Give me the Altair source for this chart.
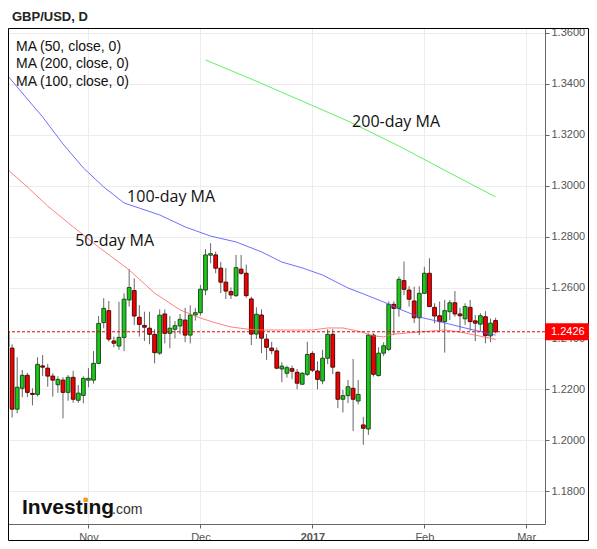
import altair as alt
import pandas as pd

# ---------------- data ----------------
opens = [1.2429, 1.2362, 1.2122, 1.2204, 1.2255, 1.2184, 1.2180, 1.2292, 1.2283, 1.2252,
         1.2218, 1.2236, 1.2188, 1.2247, 1.2157, 1.2176, 1.2236, 1.2236, 1.2302, 1.2462,
         1.2509, 1.2390, 1.2370, 1.2404, 1.2551, 1.2588, 1.2483, 1.2451, 1.2440, 1.2416,
         1.2342, 1.2496, 1.2420, 1.2436, 1.2449, 1.2472, 1.2413, 1.2492, 1.2501, 1.2590,
         1.2727, 1.2728, 1.2676, 1.2621, 1.2584, 1.2568, 1.2672, 1.2656, 1.2555, 1.2417,
         1.2492, 1.2397, 1.2362, 1.2351, 1.2280, 1.2263, 1.2281, 1.2267, 1.2220, 1.2259,
         1.2341, 1.2272, 1.2233, 1.2322, 1.2416, 1.2267, 1.2161, 1.2175, 1.2204, 1.2154,
         1.2060, 1.2044, 1.2413, 1.2254, 1.2342, 1.2357, 1.2534, 1.2518, 1.2627, 1.2590,
         1.2547, 1.2481, 1.2577, 1.2656, 1.2522, 1.2489, 1.2466, 1.2505, 1.2540, 1.2496,
         1.2477, 1.2522, 1.2469, 1.2456, 1.2485, 1.2410, 1.2470]
highs = [1.2453, 1.2377, 1.2326, 1.2276, 1.2265, 1.2204, 1.2326, 1.2335, 1.2300, 1.2263,
         1.2251, 1.2247, 1.2256, 1.2273, 1.2217, 1.2251, 1.2283, 1.2350, 1.2488, 1.2558,
         1.2547, 1.2407, 1.2544, 1.2577, 1.2672, 1.2636, 1.2531, 1.2505, 1.2505, 1.2436,
         1.2514, 1.2514, 1.2488, 1.2468, 1.2496, 1.2520, 1.2530, 1.2520, 1.2610, 1.2750,
         1.2774, 1.2741, 1.2701, 1.2676, 1.2600, 1.2728, 1.2728, 1.2690, 1.2564, 1.2522,
         1.2514, 1.2417, 1.2387, 1.2364, 1.2306, 1.2293, 1.2293, 1.2280, 1.2268, 1.2387,
         1.2350, 1.2310, 1.2355, 1.2436, 1.2436, 1.2270, 1.2197, 1.2237, 1.2319, 1.2237,
         1.2092, 1.2420, 1.2420, 1.2365, 1.2385, 1.2545, 1.2546, 1.2643, 1.2702, 1.2605,
         1.2603, 1.2605, 1.2681, 1.2715, 1.2538, 1.2545, 1.2551, 1.2551, 1.2586, 1.2520,
         1.2538, 1.2551, 1.2492, 1.2499, 1.2507, 1.2478, 1.2481]
lows = [1.2344, 1.2089, 1.2106, 1.2169, 1.2169, 1.2137, 1.2172, 1.2252, 1.2210, 1.2171,
        1.2186, 1.2086, 1.2155, 1.2147, 1.2147, 1.2145, 1.2208, 1.2222, 1.2300, 1.2440,
        1.2387, 1.2365, 1.2355, 1.2350, 1.2525, 1.2453, 1.2407, 1.2390, 1.2377, 1.2302,
        1.2335, 1.2381, 1.2361, 1.2400, 1.2416, 1.2385, 1.2380, 1.2470, 1.2490, 1.2570,
        1.2695, 1.2656, 1.2578, 1.2555, 1.2555, 1.2563, 1.2650, 1.2560, 1.2374, 1.2398,
        1.2342, 1.2315, 1.2338, 1.2279, 1.2228, 1.2246, 1.2240, 1.2200, 1.2218, 1.2252,
        1.2268, 1.2200, 1.2220, 1.2299, 1.2260, 1.2126, 1.2109, 1.2146, 1.2036, 1.2141,
        1.1982, 1.2021, 1.2250, 1.2250, 1.2330, 1.2350, 1.2413, 1.2485, 1.2570, 1.2525,
        1.2460, 1.2413, 1.2577, 1.2525, 1.2459, 1.2425, 1.2344, 1.2472, 1.2485, 1.2430,
        1.2453, 1.2430, 1.2389, 1.2429, 1.2381, 1.2385, 1.2420]
closes = [1.2365, 1.2122, 1.2208, 1.2255, 1.2188, 1.2180, 1.2298, 1.2287, 1.2252, 1.2236,
          1.2239, 1.2188, 1.2247, 1.2161, 1.2185, 1.2243, 1.2243, 1.2302, 1.2459, 1.2518,
          1.2397, 1.2381, 1.2404, 1.2554, 1.2600, 1.2488, 1.2455, 1.2444, 1.2416, 1.2344,
          1.2491, 1.2420, 1.2440, 1.2450, 1.2475, 1.2413, 1.2492, 1.2501, 1.2593, 1.2728,
          1.2733, 1.2676, 1.2621, 1.2586, 1.2571, 1.2678, 1.2656, 1.2568, 1.2417, 1.2495,
          1.2401, 1.2365, 1.2352, 1.2283, 1.2291, 1.2285, 1.2271, 1.2224, 1.2263, 1.2337,
          1.2275, 1.2239, 1.2322, 1.2416, 1.2287, 1.2161, 1.2175, 1.2210, 1.2161, 1.2180,
          1.2047, 1.2413, 1.2259, 1.2342, 1.2371, 1.2534, 1.2518, 1.2632, 1.2593, 1.2554,
          1.2481, 1.2577, 1.2656, 1.2525, 1.2488, 1.2466, 1.2509, 1.2540, 1.2496, 1.2489,
          1.2525, 1.2466, 1.2460, 1.2489, 1.2411, 1.2460, 1.2426]

# moving averages: trading-day index -> value
ma50_idx = [0, 4, 8, 14, 18, 24, 29, 34, 38, 41, 44, 47, 50, 57, 60, 63, 66, 68, 70, 72, 74, 76, 81, 86, 89, 92, 96]
ma50_val = [1.3066, 1.2995, 1.2920, 1.2822, 1.2759, 1.2669, 1.2578, 1.2512, 1.2480, 1.2461,
            1.2445, 1.2437, 1.2433, 1.2433, 1.2433, 1.2441, 1.2441, 1.2433, 1.2423, 1.2410,
            1.2406, 1.2417, 1.2425, 1.2433, 1.2425, 1.2413, 1.2396]
ma100_idx = [0, 3, 7, 11, 15, 19, 23, 26, 30, 35, 40, 45, 50, 54, 58, 62, 67, 70, 74, 77, 81, 86, 90, 96]
ma100_val = [1.3435, 1.3364, 1.3270, 1.3164, 1.3070, 1.2995, 1.2932, 1.2912, 1.2885, 1.2838,
             1.2802, 1.2779, 1.2740, 1.2700, 1.2677, 1.2649, 1.2598, 1.2575, 1.2543, 1.2516,
             1.2484, 1.2461, 1.2441, 1.2413]
ma200_idx = [39, 48, 57, 67, 77, 87, 96]
ma200_val = [1.3494, 1.3419, 1.3341, 1.3254, 1.3156, 1.3050, 1.2956]

month_idx = [16, 38, 60, 82, 102]
month_labels = ["Nov", "Dec", "2017", "Feb", "Mar"]
y_ticks = [1.18, 1.20, 1.22, 1.24, 1.26, 1.28, 1.30, 1.32, 1.34, 1.36]
last_price = 1.2426
legend_lines = ["MA (50, close, 0)", "MA (200, close, 0)", "MA (100, close, 0)"]
annot_text = ["50-day MA", "100-day MA", "200-day MA"]
annot_idx = [13.4, 23.6, 67.8]
annot_val = [1.2783, 1.2956, 1.3250]

# ---------------- chart ----------------
W, H = 537, 496
xs = alt.Scale(domain=[0.196, 105.7], nice=False, zero=False)
ys = alt.Scale(domain=[1.16708, 1.36196], nice=False, zero=False)
FONT = "Liberation Sans"

df = pd.DataFrame({"i": list(range(len(opens))), "open": opens, "high": highs,
                   "low": lows, "close": closes})

label_expr = " : ".join(
    f"datum.value == {v} ? '{t}'" for v, t in zip(month_idx, month_labels)) + " : ''"

x_axis = alt.Axis(values=month_idx, labelExpr=label_expr, grid=True, gridColor="#ececec",
                  domainColor="#666", tickColor="#666", tickSize=4, labelPadding=3,
                  labelFont=FONT, labelFontSize=11, labelColor="#555",
                  labelFontWeight={"condition": {"test": "datum.value == 60", "value": "bold"},
                                   "value": "normal"},
                  title=None)
y_axis = alt.Axis(orient="right", values=y_ticks, format=".4f", grid=True, gridColor="#ececec",
                  domainColor="#666", tickColor="#666", tickSize=4, labelPadding=2,
                  labelFont=FONT, labelFontSize=11, labelColor="#555", labelOverlap=False,
                  title=None)

base = alt.Chart(df)

wicks = base.mark_rule(color="#666", strokeWidth=1, clip=True).encode(
    x=alt.X("i:Q", scale=xs, axis=x_axis),
    y=alt.Y("low:Q", scale=ys, axis=y_axis),
    y2="high:Q",
)

bodies = base.transform_calculate(
    xa="datum.i - 0.37", xb="datum.i + 0.37",
    dir="datum.close >= datum.open ? 'up' : 'down'"
).mark_rect(strokeWidth=1, clip=True).encode(
    x=alt.X("xa:Q", scale=xs, title=None),
    x2="xb:Q",
    y=alt.Y("open:Q", scale=ys, title=None),
    y2="close:Q",
    fill=alt.Fill("dir:N", scale=alt.Scale(domain=["up", "down"], range=["#19c819", "#f20000"]),
                  legend=None),
    stroke=alt.Stroke("dir:N", scale=alt.Scale(domain=["up", "down"], range=["#1d4d1d", "#4d0a0a"]),
                      legend=None),
)

def ma_line(idx, val, color):
    d = pd.DataFrame({"i": idx, "v": val})
    return alt.Chart(d).mark_line(color=color, strokeWidth=1, clip=True, opacity=0.85).encode(
        x=alt.X("i:Q", scale=xs, title=None),
        y=alt.Y("v:Q", scale=ys, title=None),
    )

ma50 = ma_line(ma50_idx, ma50_val, "#ff6a6a")
ma100 = ma_line(ma100_idx, ma100_val, "#5555ff")
ma200 = ma_line(ma200_idx, ma200_val, "#44ee44")

pdf = pd.DataFrame({"p": [last_price]})
price_line = alt.Chart(pdf).mark_rule(
    color="#e00000", strokeWidth=1, strokeDash=[3, 2]).encode(
    y=alt.Y("p:Q", scale=ys, title=None))

price_box = alt.Chart(pdf).mark_point(
    shape="M-1,-0.39L1,-0.39L1,0.39L-1,0.39Z", filled=True, color="#ff0000", opacity=1,
    size=44 * 44).encode(
    x=alt.value(559), y=alt.Y("p:Q", scale=ys, title=None))
price_txt = alt.Chart(pdf).mark_text(
    align="left", baseline="middle", font=FONT, fontSize=11, color="white").encode(
    x=alt.value(543), y=alt.Y("p:Q", scale=ys, title=None),
    text=alt.Text("p:Q", format=".4f"))

annots = alt.Chart(pd.DataFrame({"t": annot_text, "i": annot_idx, "v": annot_val})).mark_text(
    align="left", baseline="middle", font="Open Sans", fontSize=16, color="#111").encode(
    x=alt.X("i:Q", scale=xs, title=None), y=alt.Y("v:Q", scale=ys, title=None), text="t:N")

one = pd.DataFrame({"a": [0]})
legend_layers = [
    alt.Chart(one).mark_text(text=t, align="left", baseline="middle", font=FONT,
                             fontSize=14, color="#111").encode(x=alt.value(8), y=alt.value(yy))
    for t, yy in zip(legend_lines, [18.7, 36.0, 53.7])
]

title = alt.Chart(one).mark_text(text="GBP/USD, D", align="left", baseline="alphabetic",
                                 font=FONT, fontSize=13, fontWeight="bold", color="#222").encode(
    x=alt.value(4), y=alt.value(-7))

logo1 = alt.Chart(one).mark_text(text="Investing", align="left", baseline="alphabetic",
                                 font=FONT, fontSize=21, fontWeight="bold", color="#111").encode(
    x=alt.value(14), y=alt.value(486))
logo_dot = alt.Chart(one).mark_point(shape="square", filled=True, color="#f39c12", opacity=1,
                                     size=18).encode(x=alt.value(77.6), y=alt.value(471.8))
logo2 = alt.Chart(one).mark_text(text=".com", align="left", baseline="alphabetic",
                                 font=FONT, fontSize=14, color="#333").encode(
    x=alt.value(104), y=alt.value(486))

frame = alt.Chart(one).mark_rect(filled=False, color="#000", strokeWidth=1).encode(
    x=alt.value(0.5), x2=alt.value(580.5), y=alt.value(0.5), y2=alt.value(512.5))

chart = alt.layer(
    wicks, bodies, ma50, ma100, ma200, price_line, annots, *legend_layers,
    title, logo1, logo_dot, logo2, frame, price_box, price_txt
).properties(
    width=W, height=H,
    padding={"left": 0, "top": 20, "right": 44, "bottom": 17},
    autosize=alt.AutoSizeParams(type="none"),
    background="white",
).configure_view(strokeWidth=0)

chart.save("out.html", embed_options={"renderer": "svg", "actions": False})
